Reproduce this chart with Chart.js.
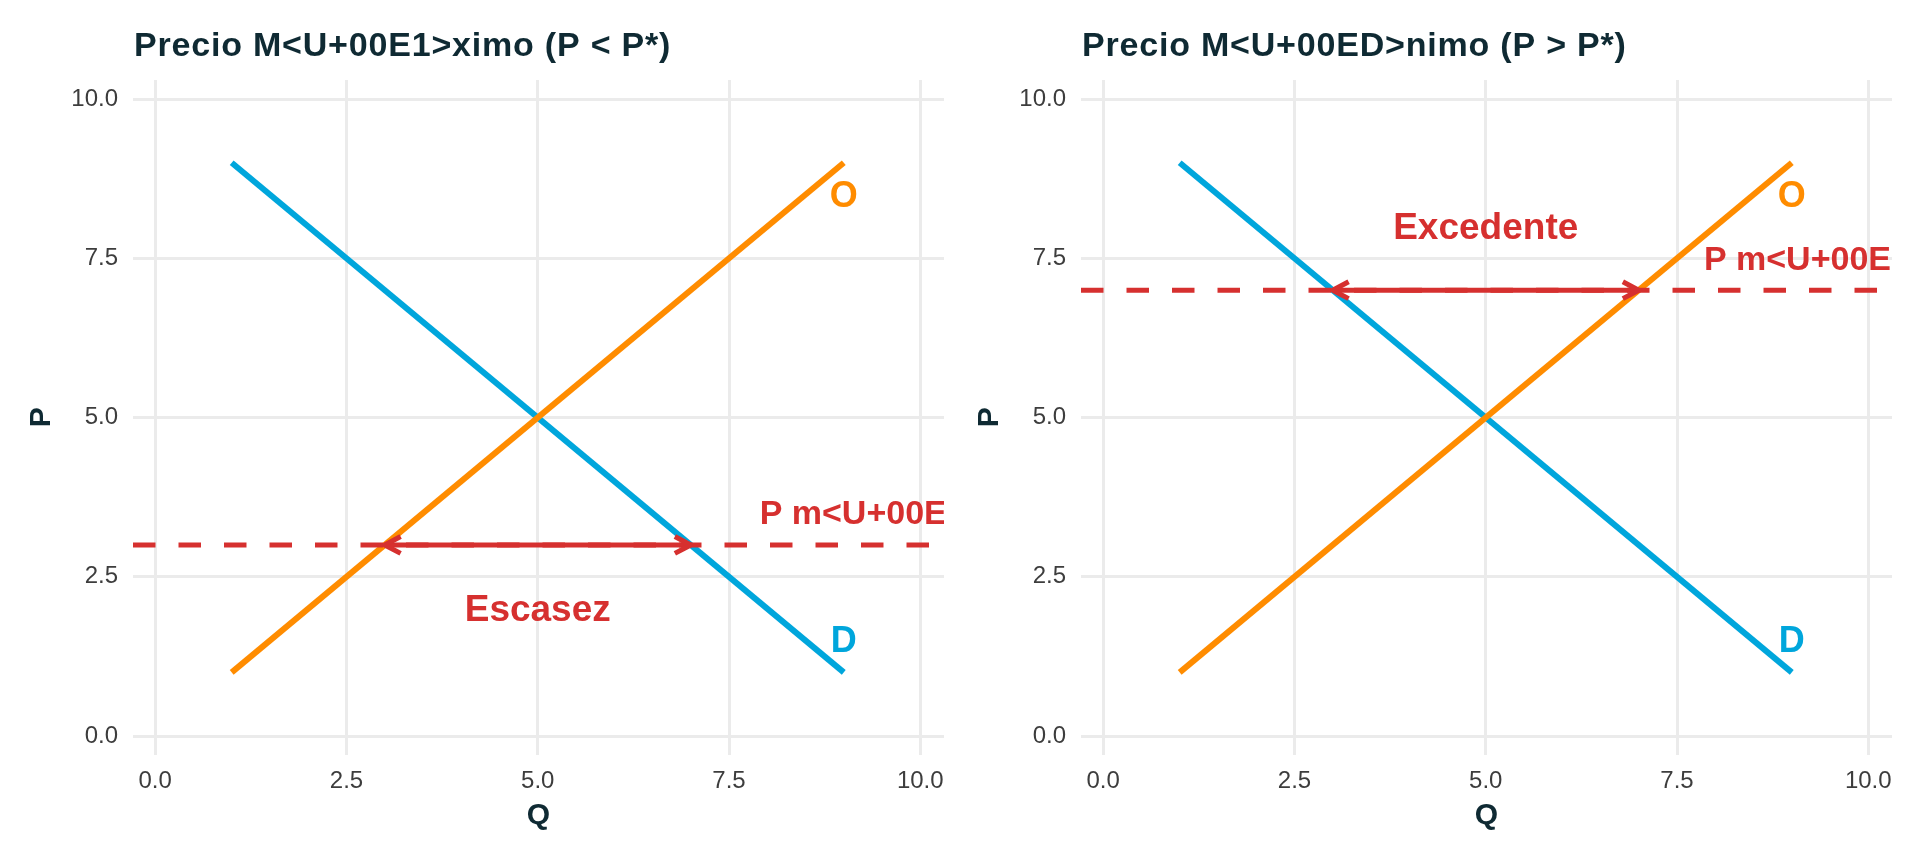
<!DOCTYPE html>
<html>
<head>
<meta charset="utf-8">
<script src="https://cdn.jsdelivr.net/npm/chart.js@4.4.1/dist/chart.umd.min.js"></script>
<style>
    html, body { margin: 0; padding: 0; background: #fff; }
    #wrap { position: relative; width: 1920px; height: 864px; overflow: hidden; }
    .panel { position: absolute; top: 0; height: 864px; }
</style>
</head>
<body>
<div id="wrap">
    <div class="panel" style="left:0;width:960px"><canvas id="graficoMaximo"></canvas></div>
    <div class="panel" style="left:948px;width:972px"><canvas id="graficoMinimo"></canvas></div>
</div>
<script>
// datos
const cantidades = [1, 9];
const preciosDemanda = [9, 1];
const preciosOferta = [1, 9];
const precioMaximo = 3;
const precioMinimo = 7;
const brechaCantidades = [3, 7];
const ticksEje = [0, 2.5, 5, 7.5, 10];

const AZUL = '#00a6dc';
const NARANJA = '#ff8c00';
const ROJO = '#d6302f';
const OSCURO = '#0f2a33';
const GRIS = '#3d3d3d';
const FUENTE = '"Liberation Sans", Arial, sans-serif';

const X_MIN = -0.29, X_MAX = 10.31;
const Y_MIN = -0.29, Y_MAX = 10.3;

// titulo, flechas y textos sobre el panel
const anotaciones = {
    id: 'anotaciones',
    afterDatasetsDraw(chart, args, opts) {
        const { ctx, chartArea, scales: { x, y } } = chart;
        ctx.save();
        ctx.beginPath();
        ctx.rect(chartArea.left, chartArea.top, chartArea.width, chartArea.height);
        ctx.clip();

        // puntas de flecha en ambos extremos de la brecha
        const py = y.getPixelForValue(opts.precio);
        const largo = 18, ang = 28 * Math.PI / 180;
        ctx.strokeStyle = ROJO;
        ctx.lineWidth = 5;
        ctx.lineJoin = 'round';
        [[brechaCantidades[0], -1], [brechaCantidades[1], 1]].forEach(([q, dir]) => {
            const px = x.getPixelForValue(q);
            ctx.beginPath();
            ctx.moveTo(px - dir * largo * Math.cos(ang), py - largo * Math.sin(ang));
            ctx.lineTo(px, py);
            ctx.lineTo(px - dir * largo * Math.cos(ang), py + largo * Math.sin(ang));
            ctx.stroke();
        });

        ctx.textAlign = 'center';
        ctx.textBaseline = 'middle';
        opts.textos.forEach(t => {
            ctx.fillStyle = t.color;
            ctx.font = 'bold ' + t.size + 'px ' + FUENTE;
            ctx.fillText(t.text, x.getPixelForValue(t.x), y.getPixelForValue(t.y) + 2);
        });
        ctx.restore();

        ctx.save();
        ctx.fillStyle = OSCURO;
        ctx.font = 'bold 34px ' + FUENTE;
        ctx.letterSpacing = '0.8px';
        ctx.textAlign = 'left';
        ctx.textBaseline = 'alphabetic';
        ctx.fillText(opts.titulo, chartArea.left + 1, 56);
        ctx.restore();
    }
};

function crearGrafico(idCanvas, precio, titulo, etiquetaPrecio, etiquetaBrecha, yBrecha, paddingDerecho) {
    const context = document.getElementById(idCanvas).getContext('2d');
    return new Chart(context, {
        type: 'scatter',
        data: {
            datasets: [
                {
                    label: 'brecha',
                    data: brechaCantidades.map(q => ({ x: q, y: precio })),
                    borderColor: ROJO,
                    borderWidth: 5
                },
                {
                    label: 'control',
                    data: [{ x: X_MIN, y: precio }, { x: X_MAX, y: precio }],
                    borderColor: ROJO,
                    borderWidth: 5,
                    borderDash: [22.5, 23]
                },
                {
                    label: 'O',
                    data: cantidades.map((q, i) => ({ x: q, y: preciosOferta[i] })),
                    borderColor: NARANJA,
                    borderWidth: 6
                },
                {
                    label: 'D',
                    data: cantidades.map((q, i) => ({ x: q, y: preciosDemanda[i] })),
                    borderColor: AZUL,
                    borderWidth: 6
                }
            ]
        },
        options: {
            responsive: true,
            maintainAspectRatio: false,
            animation: false,
            showLine: true,
            elements: { point: { radius: 0 }, line: { tension: 0, borderCapStyle: 'butt' } },
            layout: { padding: { top: 80, right: paddingDerecho, bottom: 0, left: 0 } },
            plugins: {
                legend: { display: false },
                tooltip: { enabled: false },
                anotaciones: {
                    precio: precio,
                    titulo: titulo,
                    textos: [
                        { text: 'O', x: 9, y: 8.5, color: NARANJA, size: 36 },
                        { text: 'D', x: 9, y: 1.5, color: AZUL, size: 36 },
                        { text: etiquetaBrecha, x: 5, y: yBrecha, color: ROJO, size: 37 },
                        { text: etiquetaPrecio, x: 9.5, y: precio + 0.5, color: ROJO, size: 34 }
                    ]
                }
            },
            scales: {
                x: {
                    type: 'linear',
                    min: X_MIN,
                    max: X_MAX,
                    afterBuildTicks: s => { s.ticks = ticksEje.map(v => ({ value: v })); },
                    afterFit: s => { s.height = 109.5; },
                    grid: { color: '#ebebeb', lineWidth: 3, drawTicks: false },
                    border: { display: false },
                    ticks: {
                        padding: 12,
                        color: GRIS,
                        autoSkip: false,
                        maxRotation: 0,
                        font: { family: FUENTE, size: 24 },
                        callback: v => Number(v).toFixed(1)
                    },
                    title: {
                        display: true,
                        text: 'Q',
                        color: OSCURO,
                        font: { family: FUENTE, size: 30, weight: 'bold' },
                        padding: { top: 0, bottom: 30 }
                    }
                },
                y: {
                    type: 'linear',
                    min: Y_MIN,
                    max: Y_MAX,
                    afterBuildTicks: s => { s.ticks = ticksEje.map(v => ({ value: v })); },
                    afterFit: s => { s.width = 133; },
                    grid: { color: '#ebebeb', lineWidth: 3, drawTicks: false },
                    border: { display: false },
                    ticks: {
                        padding: 15,
                        color: GRIS,
                        autoSkip: false,
                        font: { family: FUENTE, size: 24 },
                        callback: v => Number(v).toFixed(1)
                    },
                    title: {
                        display: true,
                        text: 'P',
                        color: OSCURO,
                        font: { family: FUENTE, size: 30, weight: 'bold' },
                        padding: { top: 24, bottom: 0 }
                    }
                }
            }
        },
        plugins: [anotaciones]
    });
}

crearGrafico('graficoMaximo', precioMaximo, 'Precio M<U+00E1>ximo (P < P*)', 'P m<U+00E1>x', 'Escasez', 2, 16);
crearGrafico('graficoMinimo', precioMinimo, 'Precio M<U+00ED>nimo (P > P*)', 'P m<U+00ED>n', 'Excedente', 8, 28);
</script>
</body>
</html>
